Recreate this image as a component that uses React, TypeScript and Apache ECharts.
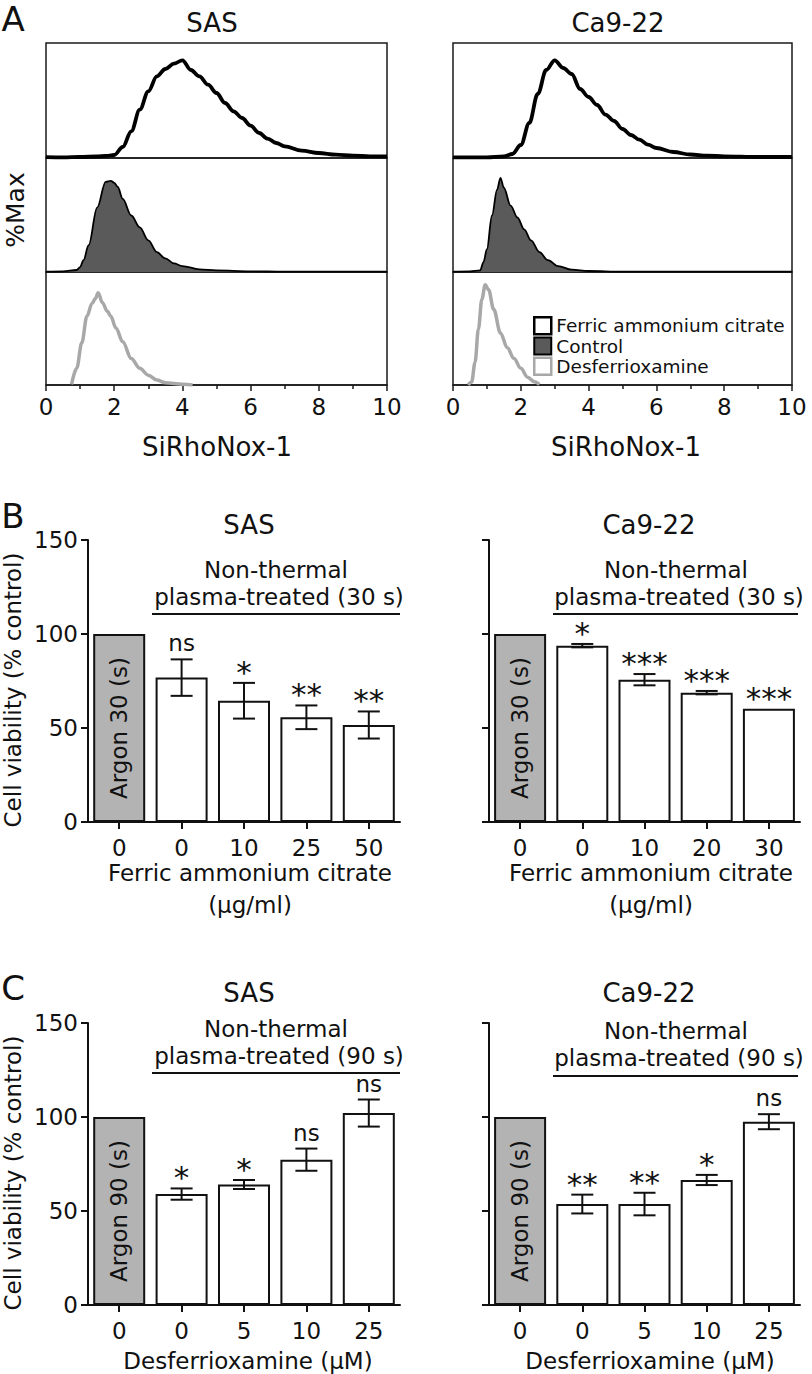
import React, { useEffect, useRef } from 'react';
import * as echarts from 'echarts';

const FONT = '"DejaVu Sans", Verdana, sans-serif';
const INK = '#111';

// ---------- Panel A: SiRhoNox-1 histograms (relative counts) ----------
const sasFacX = [0, 0.5, 1, 1.5, 1.75, 2, 2.25, 2.5, 2.75, 3, 3.25, 3.5, 3.75, 4, 4.25, 4.5, 4.75, 5, 5.25, 5.5, 5.75, 6, 6.25, 6.5, 6.75, 7, 7.5, 8, 8.5, 9, 9.5, 10];
const sasFacY = [0.8, 0.6, 1, 1.5, 2, 3, 11, 26.7, 48.3, 66.7, 81.7, 89, 94.3, 97.7, 88, 81.7, 73.3, 65, 55, 46.7, 40, 32.3, 25, 19.3, 15, 11.7, 7.3, 5, 3.3, 2.3, 1.7, 1.7];
const sasCtrlX = [0, 0.5, 0.9, 1, 1.1, 1.25, 1.5, 1.75, 1.9, 2, 2.1, 2.25, 2.5, 2.75, 3, 3.25, 3.5, 3.75, 4, 4.5, 5, 6, 7, 8, 9, 10];
const sasCtrlY = [0.3, 0.7, 2, 5, 12, 27, 65, 91, 92, 90, 86, 73.7, 57, 45, 32, 20, 13.7, 8.7, 6, 2.7, 1.7, 0.7, 0.3, 0.3, 0.3, 0.3];
const sasDfoX = [0.75, 0.9, 1.05, 1.2, 1.35, 1.45, 1.53, 1.65, 1.8, 1.9, 2.05, 2.25, 2.5, 2.75, 3, 3.25, 3.5, 4, 4.3];
const sasDfoY = [0.7, 17, 43, 70, 83, 88, 94, 84, 75, 70, 58, 44, 27, 17, 10, 5, 2.3, 0.7, 0];

const caFacX = [0, 1, 1.5, 1.75, 2, 2.25, 2.5, 2.75, 3, 3.25, 3.5, 3.75, 4, 4.25, 4.5, 4.75, 5, 5.25, 5.5, 5.75, 6, 6.5, 7, 7.5, 8, 9, 10];
const caFacY = [0.7, 0.7, 1.7, 4, 13, 35, 64, 88, 97.7, 90, 84, 69, 61, 53, 43.3, 37, 29, 23, 18.3, 13.3, 10, 6, 3.5, 2.3, 1.7, 1, 1];
const caCtrlX = [0, 0.5, 0.8, 0.9, 1, 1.15, 1.3, 1.4, 1.5, 1.7, 1.9, 2.1, 2.3, 2.55, 2.8, 3.1, 3.5, 4, 5, 6, 7, 8, 9, 10];
const caCtrlY = [0.3, 0.7, 1.7, 10, 23, 57, 83, 95, 85, 67, 55, 43, 32, 20, 12, 6, 2.3, 1, 0.3, 0.3, 0.3, 0.3, 0.3, 0.3];
const caDfoX = [0.45, 0.55, 0.65, 0.75, 0.85, 0.95, 1.05, 1.2, 1.4, 1.6, 1.8, 2, 2.2, 2.4, 2.55];
const caDfoY = [0, 3, 23, 57, 87, 102, 97, 77, 53, 38, 27, 17, 8, 3.3, 0.7];

const histTicks = [0, 2, 4, 6, 8, 10];
const legendNames = ['Ferric ammonium citrate', 'Control', 'Desferrioxamine'];

// ---------- Panels B and C: cell viability (% control) ----------
const catsB_SAS = ['0', '0', '10', '25', '50'];
const valsB_SAS = [100, 76.8, 64.5, 55.7, 51.6];
const errB_SAS = [0, 9.7, 9.5, 6.3, 7.2];
const sigB_SAS = ['', 'ns', '*', '**', '**'];

const catsB_CA = ['0', '0', '10', '20', '30'];
const valsB_CA = [100, 93.8, 75.7, 68.8, 60.3];
const errB_CA = [0, 0.9, 3, 0.9, 0];
const sigB_CA = ['', '*', '***', '***', '***'];

const catsC_SAS = ['0', '0', '5', '10', '25'];
const valsC_SAS = [100, 59, 64.1, 77.3, 102.1];
const errC_SAS = [0, 3, 2.4, 5.9, 7.2];
const sigC_SAS = ['', '*', '*', 'ns', 'ns'];

const catsC_CA = ['0', '0', '5', '10', '25'];
const valsC_CA = [100, 53.7, 53.7, 66.5, 97.5];
const errC_CA = [0, 5, 6, 2.7, 4];
const sigC_CA = ['', '**', '**', '*', 'ns'];

const LANE_MAX = 115;

function pairs(xs: number[], ys: number[]) {
  return xs.map((x, i) => [x, ys[i]]);
}

function txt(text: string, x: number, y: number, size: number, rotate = false) {
  return {
    type: 'text',
    x,
    y,
    rotation: rotate ? Math.PI / 2 : 0,
    style: {
      text,
      fontSize: size,
      fontFamily: FONT,
      fill: INK,
      align: 'center',
      verticalAlign: 'middle',
      textAlign: 'center',
      textVerticalAlign: 'middle',
    },
  };
}

function hline(x1: number, x2: number, y: number) {
  return { type: 'line', shape: { x1, y1: y, x2, y2: y }, style: { stroke: INK, lineWidth: 2 } };
}

function buildOption() {
  const grids: any[] = [];
  const xAxes: any[] = [];
  const yAxes: any[] = [];
  const series: any[] = [];

  // lanes for panel A
  const laneTops = [43, 158, 272];
  const laneHeights = [115, 114, 113];
  const panelsA = [
    { left: 46, width: 341, fac: pairs(sasFacX, sasFacY), ctrl: pairs(sasCtrlX, sasCtrlY), dfo: pairs(sasDfoX, sasDfoY) },
    { left: 453, width: 339, fac: pairs(caFacX, caFacY), ctrl: pairs(caCtrlX, caCtrlY), dfo: pairs(caDfoX, caDfoY) },
  ];
  panelsA.forEach((p) => {
    for (let l = 0; l < 3; l++) {
      const gi = grids.length;
      grids.push({
        left: p.left, top: laneTops[l], width: p.width, height: laneHeights[l],
        show: true, borderColor: '#1a1a1a', borderWidth: 1.5, backgroundColor: 'transparent',
      });
      const isBottom = l === 2;
      xAxes.push({
        type: 'value', gridIndex: gi, min: histTicks[0], max: histTicks[histTicks.length - 1], interval: 2,
        show: isBottom,
        axisLine: { show: true, onZero: false, lineStyle: { color: '#1a1a1a', width: 1.5 } },
        axisTick: { show: true, length: 6, lineStyle: { color: '#1a1a1a', width: 1.5 } },
        minorTick: { show: true, splitNumber: 2, length: 4, lineStyle: { color: '#1a1a1a', width: 1.5 } },
        axisLabel: { show: true, fontSize: 23, fontFamily: FONT, color: INK, margin: 10 },
        splitLine: { show: false },
        minorSplitLine: { show: false },
      });
      yAxes.push({ type: 'value', gridIndex: gi, min: 0, max: LANE_MAX, show: false, splitLine: { show: false } });
      const common = {
        type: 'line', xAxisIndex: gi, yAxisIndex: gi, symbol: 'none', smooth: 0.35, smoothMonotone: 'x',
        silent: true,
      };
      if (l === 0) {
        series.push({ ...common, name: legendNames[0], data: p.fac, lineStyle: { color: '#000', width: 3.8 }, itemStyle: { color: '#000' } });
      } else if (l === 1) {
        series.push({ ...common, name: legendNames[1], data: p.ctrl, lineStyle: { color: '#000', width: 1.8 }, itemStyle: { color: '#5a5a5a' }, areaStyle: { color: '#5a5a5a', opacity: 1 } });
      } else {
        series.push({ ...common, name: legendNames[2], data: p.dfo, lineStyle: { color: '#a8a8a8', width: 3.5 }, itemStyle: { color: '#a8a8a8' } });
      }
    }
  });

  // bar panels
  const barPanels = [
    { left: 88, width: 312, top: 540, cats: catsB_SAS, vals: valsB_SAS, errs: errB_SAS, sigs: sigB_SAS, labels: true, argon: 'Argon 30 (s)' },
    { left: 489, width: 311, top: 540, cats: catsB_CA, vals: valsB_CA, errs: errB_CA, sigs: sigB_CA, labels: false, argon: 'Argon 30 (s)' },
    { left: 88, width: 312, top: 1023, cats: catsC_SAS, vals: valsC_SAS, errs: errC_SAS, sigs: sigC_SAS, labels: true, argon: 'Argon 90 (s)' },
    { left: 489, width: 311, top: 1023, cats: catsC_CA, vals: valsC_CA, errs: errC_CA, sigs: sigC_CA, labels: false, argon: 'Argon 90 (s)' },
  ];
  barPanels.forEach((p) => {
    const gi = grids.length;
    grids.push({ left: p.left, top: p.top, width: p.width, height: 282 });
    xAxes.push({
      type: 'category', gridIndex: gi, data: p.cats, boundaryGap: true,
      axisLine: { show: true, onZero: false, lineStyle: { color: INK, width: 2 } },
      axisTick: { show: true, alignWithLabel: true, length: 7, lineStyle: { color: INK, width: 2 } },
      axisLabel: { show: true, interval: 0, fontSize: 23, fontFamily: FONT, color: INK, margin: 14 },
      splitLine: { show: false },
    });
    yAxes.push({
      type: 'value', gridIndex: gi, min: 0, max: 150, interval: 50,
      axisLine: { show: true, lineStyle: { color: INK, width: 2 } },
      axisTick: { show: true, length: 7, lineStyle: { color: INK, width: 2 } },
      axisLabel: { show: p.labels, fontSize: 23, fontFamily: FONT, color: INK, margin: 10 },
      splitLine: { show: false },
    });
    series.push({
      type: 'bar', xAxisIndex: gi, yAxisIndex: gi, barWidth: 52, silent: true, z: 2,
      itemStyle: { color: '#fff', borderColor: INK, borderWidth: 2 },
      data: p.vals.map((v, i) =>
        i === 0
          ? {
              value: v,
              itemStyle: { color: '#b3b3b3', borderColor: INK, borderWidth: 2 },
              label: { show: true, position: 'inside', rotate: 90, formatter: p.argon, fontSize: 23, fontFamily: FONT, color: INK },
            }
          : v
      ),
    });
    const sigs = p.sigs;
    series.push({
      type: 'custom', xAxisIndex: gi, yAxisIndex: gi, z: 5, silent: true,
      data: p.vals.map((v, i) => [i, v, p.errs[i]]),
      renderItem: (params: any, api: any) => {
        const i = api.value(0);
        const m = api.value(1);
        const e = api.value(2);
        const sig = sigs[params.dataIndex];
        const top = api.coord([i, m + e]);
        const bot = api.coord([i, m - e]);
        const children: any[] = [];
        const ls = { stroke: INK, lineWidth: 2 };
        if (e > 0) {
          children.push({ type: 'line', shape: { x1: top[0], y1: top[1], x2: bot[0], y2: bot[1] }, style: ls });
          children.push({ type: 'line', shape: { x1: top[0] - 11, y1: top[1], x2: top[0] + 11, y2: top[1] }, style: ls });
          children.push({ type: 'line', shape: { x1: bot[0] - 11, y1: bot[1], x2: bot[0] + 11, y2: bot[1] }, style: ls });
        }
        if (sig) {
          const star = sig.indexOf('*') >= 0;
          children.push({
            type: 'text',
            x: top[0],
            y: top[1] - (star ? 11 : 16),
            style: {
              text: sig, fill: INK, fontSize: star ? 31 : 23, fontFamily: FONT,
              align: 'center', verticalAlign: 'middle', textAlign: 'center', textVerticalAlign: 'middle',
            },
          });
        }
        return { type: 'group', children };
      },
    });
  });

  const graphics: any[] = [
    txt('A', 13, 19, 34),
    txt('B', 13, 516, 34),
    txt('C', 13, 988, 34),
    txt('SAS', 212, 23, 26),
    txt('Ca9-22', 618, 23, 26),
    txt('%Max', 15, 210, 25, true),
    txt('SiRhoNox-1', 217, 447, 26),
    txt('SiRhoNox-1', 626, 447, 26),
    // panel B
    txt('SAS', 249, 525, 26),
    txt('Ca9-22', 649, 525, 26),
    txt('Non-thermal', 276, 570, 23),
    txt('plasma-treated (30 s)', 279, 597, 23),
    hline(152, 400, 614),
    txt('Non-thermal', 676, 570, 23),
    txt('plasma-treated (30 s)', 679, 597, 23),
    hline(553, 798, 614),
    txt('Cell viability (% control)', 13, 690, 23, true),
    txt('Ferric ammonium citrate', 250, 873, 23),
    txt('(µg/ml)', 250, 905, 23),
    txt('Ferric ammonium citrate', 651, 873, 23),
    txt('(µg/ml)', 651, 905, 23),
    // panel C
    txt('SAS', 249, 993, 26),
    txt('Ca9-22', 649, 993, 26),
    txt('Non-thermal', 276, 1029, 23),
    txt('plasma-treated (90 s)', 279, 1056, 23),
    hline(152, 400, 1073),
    txt('Non-thermal', 676, 1031, 23),
    txt('plasma-treated (90 s)', 679, 1058, 23),
    hline(553, 798, 1076),
    txt('Cell viability (% control)', 13, 1173, 23, true),
    txt('Desferrioxamine (µM)', 248, 1361, 23),
    txt('Desferrioxamine (µM)', 650, 1361, 23),
  ];

  return {
    animation: false,
    backgroundColor: '#fff',
    grid: grids,
    xAxis: xAxes,
    yAxis: yAxes,
    series,
    legend: {
      show: true,
      selectedMode: false,
      orient: 'vertical',
      left: 533,
      top: 316,
      itemWidth: 17,
      itemHeight: 17,
      itemGap: 1,
      padding: 0,
      icon: 'rect',
      textStyle: { fontSize: 18.5, fontFamily: FONT, color: INK },
      data: [
        { name: legendNames[0], itemStyle: { color: '#fff', borderColor: '#000', borderWidth: 2.5 } },
        { name: legendNames[1], itemStyle: { color: '#5a5a5a', borderColor: '#000', borderWidth: 2 } },
        { name: legendNames[2], itemStyle: { color: '#fff', borderColor: '#a8a8a8', borderWidth: 2.5 } },
      ],
    },
    graphic: { elements: graphics },
  };
}

export default function App() {
  const ref = useRef<HTMLDivElement>(null);
  useEffect(() => {
    document.body.style.margin = '0';
    if (!ref.current) return;
    const chart = echarts.init(ref.current, null, { renderer: 'svg' });
    chart.setOption(buildOption() as any);
    return () => chart.dispose();
  }, []);
  return <div ref={ref} style={{ width: 812, height: 1374 }} />;
}
